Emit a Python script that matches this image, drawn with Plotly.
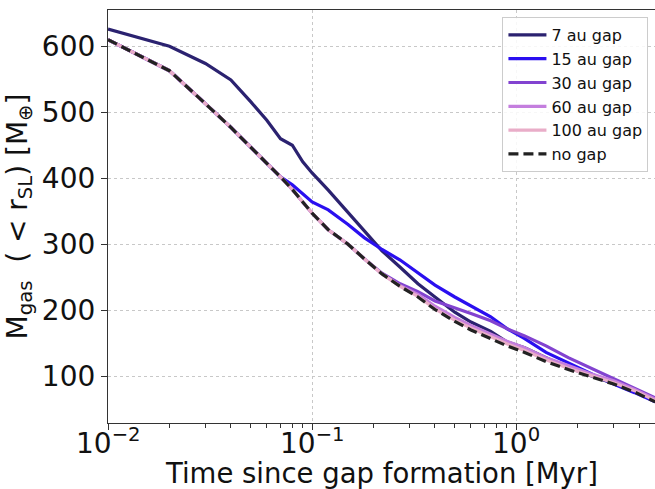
import math
import plotly.graph_objects as go

# Time since gap formation [Myr]
time_myr = [0.01, 0.02, 0.03, 0.04, 0.05, 0.06, 0.07, 0.08, 0.09, 0.10,
            0.12, 0.15, 0.18, 0.22, 0.27, 0.33, 0.4, 0.5, 0.6, 0.75,
            0.9, 1.1, 1.4, 1.8, 2.3, 3.0, 3.8, 4.8]

# Gas mass inside r_SL [M_earth]
gap_7au = [626, 600, 574, 549, 516, 488, 460, 450, 425, 408,
           382, 348, 320, 290, 265, 240, 220, 197, 182, 168,
           152, 143, 128, 113, 101, 89, 77, 63]
gap_15au = [610, 563, 513, 477, 447, 423, 402, 390, 377, 364,
            352, 330, 310, 292, 276, 257, 238, 220, 206, 190,
            172, 157, 136, 120, 104, 88, 75, 61]
gap_30au = [610, 563, 513, 477, 447, 423, 402, 383, 364, 347,
            322, 300, 278, 256, 240, 228, 214, 204, 195, 184,
            172, 161, 146, 128, 113, 96, 82, 67]
gap_60au = [610, 563, 513, 477, 447, 423, 402, 383, 364, 347,
            322, 300, 278, 255, 237, 224, 206, 189, 177, 164,
            153, 143, 128, 116, 104, 93, 80, 65]
gap_100au = [610, 563, 513, 477, 447, 423, 402, 383, 364, 347,
             322, 300, 278, 255, 236, 221, 202, 185, 173, 160,
             149, 139, 125, 112, 101, 90, 78, 63]
no_gap = [610, 563, 513, 477, 447, 423, 402, 383, 364, 347,
          322, 300, 278, 255, 236, 220, 201, 183, 170, 157,
          146, 136, 122, 110, 99, 88, 76, 61]

series_names = ["7 au gap", "15 au gap", "30 au gap", "60 au gap", "100 au gap", "no gap"]
series_values = [gap_7au, gap_15au, gap_30au, gap_60au, gap_100au, no_gap]
series_colors = ["#2b2270", "#2a0ff0", "#8243d0", "#c47ede", "#e9adc8", "#222222"]
series_dash = ["solid", "solid", "solid", "solid", "solid", "dash"]

x_tickvals = [0.01, 0.1, 1]
x_ticktext = ["10<sup>−2</sup>", "10<sup>−1</sup>", "10<sup>0</sup>"]
x_minor_tickvals = [0.02, 0.03, 0.04, 0.05, 0.06, 0.07, 0.08, 0.09,
                    0.2, 0.3, 0.4, 0.5, 0.6, 0.7, 0.8, 0.9,
                    2, 3, 4]
y_tickvals = [100, 200, 300, 400, 500, 600]
x_range_log = [-2, 0.68]

FS = 28

fig = go.Figure()
for name, vals, col, dash in zip(series_names, series_values, series_colors, series_dash):
    is_dash = dash == "dash"
    fig.add_trace(go.Scatter(
        x=time_myr, y=vals, mode="lines", name=name,
        # the last (dashed) series is drawn on the twin log axis that carries the minor ticks
        xaxis="x2" if is_dash else "x",
        line=dict(color=col, width=3.2, dash=("10px,5px" if is_dash else "solid")),
    ))

axis_common = dict(
    showline=True, linecolor="#333333", linewidth=1.2, mirror=True,
    ticks="outside", tickcolor="#333333", ticklen=6, tickwidth=1.2,
    showgrid=True, gridcolor="#c8c8c8", griddash="dot", gridwidth=1,
    zeroline=False,
    tickfont=dict(family="DejaVu Sans", size=FS, color="#111111"),
)

fig.update_layout(
    xaxis=dict(
        type="log", range=x_range_log,
        tickmode="array", tickvals=x_tickvals, showticklabels=False,
        **axis_common,
    ),
    xaxis2=dict(
        type="log", range=x_range_log, overlaying="x", anchor="y", side="bottom",
        tickmode="array", tickvals=x_minor_tickvals, showticklabels=False,
        ticks="outside", ticklen=3.5, tickwidth=1, tickcolor="#333333",
        showgrid=False, showline=False, zeroline=False,
    ),
    yaxis=dict(
        range=[29, 655], tickvals=y_tickvals,
        title=dict(text="M<sub>gas</sub>  ( < r<sub>SL</sub>) [M<sub>⊕</sub>]",
                   font=dict(family="DejaVu Sans", size=FS, color="#111111"), standoff=6),
        **axis_common,
    ),
)

# x tick labels placed as annotations so they sit close to the axis
for tv, tt in zip(x_tickvals, x_ticktext):
    fig.add_annotation(
        text=tt, xref="x", yref="paper", x=math.log10(tv), y=0.006,
        xanchor="center", yanchor="top", showarrow=False,
        font=dict(family="DejaVu Sans", size=FS, color="#111111"),
    )

fig.add_annotation(
    text="Time since gap formation [Myr]",
    xref="paper", yref="paper", x=0.5, y=-0.122,
    xanchor="center", yanchor="middle", showarrow=False,
    font=dict(family="DejaVu Sans", size=27.5, color="#111111"),
)

fig.update_layout(
    width=655, height=489,
    margin=dict(l=108, r=0, t=10, b=66),
    paper_bgcolor="white", plot_bgcolor="white",
    font=dict(family="DejaVu Sans", color="#111111"),
    legend=dict(
        x=0.988, y=0.983, xanchor="right", yanchor="top",
        bgcolor="rgba(255,255,255,0.85)", bordercolor="#cccccc", borderwidth=1,
        font=dict(family="DejaVu Sans", size=16, color="#111111"),
        tracegroupgap=0, itemwidth=38,
    ),
    showlegend=True,
)

fig.write_html("out.html")
